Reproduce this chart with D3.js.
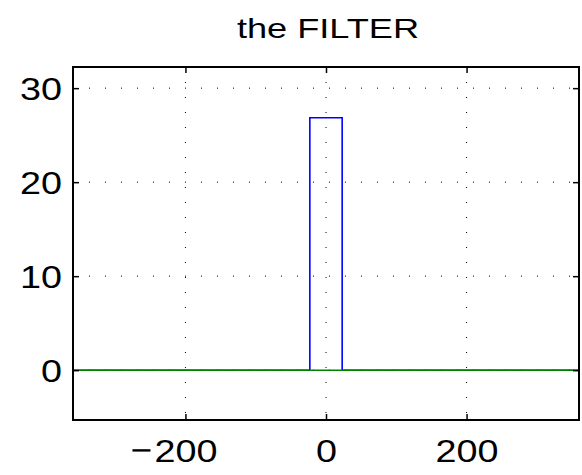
<!DOCTYPE html>
<html>
<head>
<meta charset="utf-8">
<script src="https://cdn.jsdelivr.net/npm/d3@7"></script>
<style>
  html, body { margin: 0; padding: 0; background: #fff; }
  svg { display: block; }
  text { font-family: "Liberation Sans", Arial, Helvetica, sans-serif; fill: #000; }
</style>
</head>
<body>
<script>
// Filter response: a rectangular pulse around zero, plus the zero baseline
const filterX = [-360, -23, -23, 23, 23, 360];
const filterY = [0, 0, 26.85, 26.85, 0, 0];
const baseX = [-360, 360];
const baseY = [0, 0];

const xTicks = [-200, 0, 200];
const yTicks = [0, 10, 20, 30];
const xDomain = [-360, 360];
const yDomain = [-5.3, 32.25];
const title = "the FILTER";

const W = 582, H = 475;
const margin = { left: 73, top: 67, right: 3, bottom: 55 };
const iw = W - margin.left - margin.right;
const ih = H - margin.top - margin.bottom;

const svg = d3.select("body").append("svg").attr("width", W).attr("height", H);
const g = svg.append("g").attr("transform", `translate(${margin.left},${margin.top})`);

const x = d3.scaleLinear().domain(xDomain).range([0, iw]);
const y = d3.scaleLinear().domain(yDomain).range([ih, 0]);

// dotted grid
g.append("g").selectAll("line").data(xTicks).join("line")
  .attr("x1", d => x(d)).attr("x2", d => x(d))
  .attr("y1", 0).attr("y2", ih)
  .attr("stroke", "#000").attr("stroke-width", 1)
  .attr("stroke-dasharray", "1,14");
g.append("g").selectAll("line").data(yTicks).join("line")
  .attr("y1", d => y(d)).attr("y2", d => y(d))
  .attr("x1", 0).attr("x2", iw)
  .attr("stroke", "#000").attr("stroke-width", 1)
  .attr("stroke-dasharray", "1,15");

// data lines
const line = d3.line().x(d => x(d[0])).y(d => y(d[1]));
g.append("path").datum(filterX.map((v, i) => [v, filterY[i]]))
  .attr("d", line).attr("fill", "none").attr("stroke", "#0000ff").attr("stroke-width", 1.6);
g.append("path").datum(baseX.map((v, i) => [v, baseY[i]]))
  .attr("d", line).attr("fill", "none").attr("stroke", "#008000").attr("stroke-width", 1.6);

// axes with inward ticks on all four sides
const tickLen = 6;
const axB = g.append("g").attr("transform", `translate(0,${ih})`)
  .call(d3.axisBottom(x).tickValues(xTicks).tickSizeInner(-tickLen).tickSizeOuter(0).tickFormat(d => Math.abs(d)));
const axT = g.append("g")
  .call(d3.axisTop(x).tickValues(xTicks).tickSizeInner(-tickLen).tickSizeOuter(0).tickFormat(""));
const axL = g.append("g")
  .call(d3.axisLeft(y).tickValues(yTicks).tickSizeInner(-tickLen).tickSizeOuter(0));
const axR = g.append("g").attr("transform", `translate(${iw},0)`)
  .call(d3.axisRight(y).tickValues(yTicks).tickSizeInner(-tickLen).tickSizeOuter(0).tickFormat(""));

[axB, axT, axL, axR].forEach(a => {
  a.select(".domain").remove();
  a.selectAll(".tick line").attr("stroke", "#000").attr("stroke-width", 1.5);
});

const fs = "32px", sx = 1.18;
// x labels: digits centred on the tick, a wide minus sign hanging to the left
axB.selectAll(".tick text")
  .attr("y", 0).attr("dy", 0)
  .attr("transform", `translate(0,42) scale(${sx},1)`)
  .style("font-size", fs).attr("text-anchor", "middle");
axB.selectAll(".tick").filter(d => d < 0).each(function () {
  const t = d3.select(this).select("text");
  const w = t.node().getBBox().width * sx;
  d3.select(this).append("rect")
    .attr("x", -w / 2 - 22).attr("y", 29.2)
    .attr("width", 18).attr("height", 2.4)
    .attr("fill", "#000");
});
axL.selectAll(".tick text")
  .attr("x", 0).attr("dy", 0)
  .attr("transform", `translate(-11,11.6) scale(${sx},1)`)
  .style("font-size", fs).attr("text-anchor", "end");

// box
g.append("rect").attr("x", 0).attr("y", 0).attr("width", iw).attr("height", ih)
  .attr("fill", "none").attr("stroke", "#000").attr("stroke-width", 2);

// title
svg.append("text")
  .attr("transform", `translate(${margin.left + iw / 2 + 2},38.3) scale(1.34,1)`)
  .attr("text-anchor", "middle")
  .style("font-size", "27px")
  .text(title);
</script>
</body>
</html>
